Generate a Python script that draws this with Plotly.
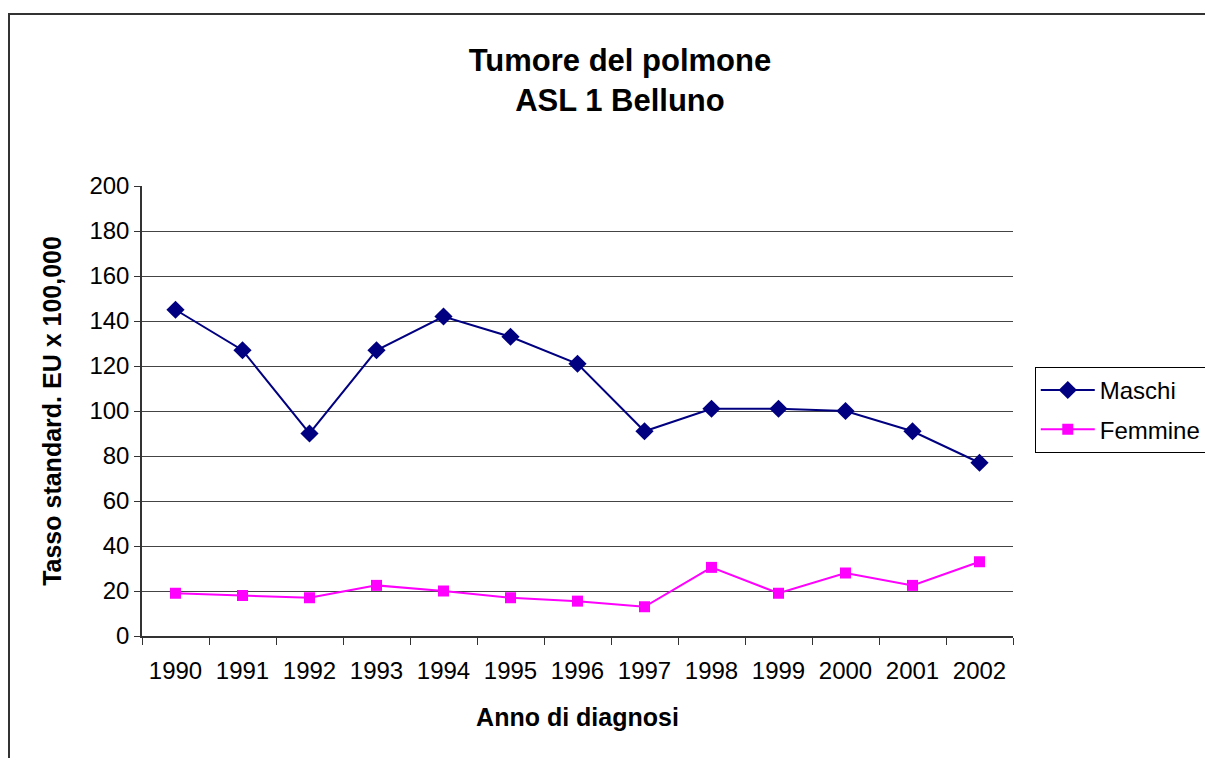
import plotly.graph_objects as go

years = ["1990", "1991", "1992", "1993", "1994", "1995", "1996", "1997", "1998", "1999", "2000", "2001", "2002"]
maschi = [145, 127, 90, 127, 142, 133, 121, 91, 101, 101, 100, 91, 77]
femmine = [19, 18, 17, 22.5, 20, 17, 15.5, 13, 30.5, 19, 28, 22.5, 33]

FONT = "Liberation Sans, Arial, sans-serif"

fig = go.Figure()
fig.add_trace(go.Scatter(
    x=years, y=maschi, name="Maschi", mode="lines+markers", legendgroup="m",
    line=dict(color="#000080", width=2),
    marker=dict(symbol="diamond", size=14, color="#000080"),
))
fig.add_trace(go.Scatter(
    x=years, y=femmine, name="Femmine", mode="lines+markers", legendgroup="f",
    line=dict(color="#FF00FF", width=2),
    marker=dict(symbol="square", size=11, color="#FF00FF"),
))

fig.update_layout(
    width=1213, height=758,
    margin=dict(l=134, r=208, t=178, b=130),
    paper_bgcolor="white", plot_bgcolor="white",
    font=dict(family=FONT, color="black", size=24),
    title=dict(
        text="<b>Tumore del polmone<br>ASL 1 Belluno</b>",
        x=0.5045, xanchor="center", y=0.917, yanchor="top",
        font=dict(family=FONT, size=31, color="black"),
    ),
    legend=dict(
        x=1.025, y=0.598, xanchor="left", yanchor="top",
        bordercolor="black", borderwidth=1, bgcolor="white",
        font=dict(family=FONT, size=24, color="black"),
        traceorder="grouped", tracegroupgap=5, itemwidth=54,
    ),
    showlegend=True,
)

fig.update_xaxes(
    type="category", range=[-0.5, 12.5],
    showline=True, linecolor="#333333", linewidth=1.5,
    ticks="outside", tickson="boundaries", ticklen=7, tickcolor="#333333",
    ticklabelstandoff=12,
    showgrid=False,
    tickfont=dict(family=FONT, size=24, color="black"),
    title=dict(text="<b>Anno di diagnosi</b>", font=dict(family=FONT, size=25, color="black"), standoff=26),
)
fig.update_yaxes(
    range=[0, 200], dtick=20,
    showline=True, linecolor="#333333", linewidth=1.5,
    ticks="outside", ticklen=6, tickcolor="#333333",
    ticklabelstandoff=0,
    showgrid=True, gridcolor="#444444", gridwidth=1,
    zeroline=False,
    tickfont=dict(family=FONT, size=24, color="black"),
    title=dict(text="<b>Tasso standard. EU x 100,000</b>", font=dict(family=FONT, size=25, color="black"), standoff=21),
)

# outer chart-area frame (Excel style, extends beyond the page on right/bottom)
fig.add_shape(
    type="rect", xref="paper", yref="paper",
    x0=(1 - 134) / 871, x1=3, y0=-1, y1=(628 - 6) / 450,
    line=dict(color="#333333", width=2), fillcolor="rgba(0,0,0,0)", layer="below",
)

fig.write_html("out.html")
